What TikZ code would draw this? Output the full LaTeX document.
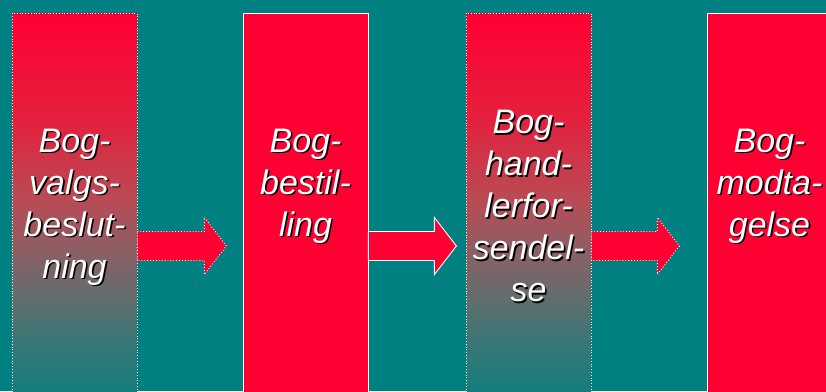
\documentclass[tikz,border=0pt]{standalone}
\usepackage{fontspec}
\setmainfont{Liberation Sans}
\usetikzlibrary{calc}

\definecolor{slidebg}{RGB}{0,128,128}
\definecolor{boxred}{RGB}{255,0,51}
\definecolor{fadeteal}{RGB}{20,125,125}
\definecolor{fadea}{RGB}{230,30,60}
\definecolor{fadeb}{RGB}{185,75,85}
\definecolor{fadec}{RGB}{140,95,100}
\definecolor{fade d}{RGB}{95,110,110}
\definecolor{fadee}{RGB}{50,120,120}

% red running into teal, through grey
\pgfdeclareverticalshading{stepfade}{100bp}{color(0bp)=(fadeteal); color(25bp)=(fadeteal);
  color(30.6bp)=(fadee); color(37.2bp)=(fade d); color(43.8bp)=(fadec);
  color(50.4bp)=(fadeb); color(61.8bp)=(fadea); color(75bp)=(boxred); color(100bp)=(boxred)}

% label with a dark drop shadow
\newcommand{\steplabel}[3]{%
\node[labelshadow] (#1s) at ([shift={(1.6,-1.6)}]#2) {#3};
\node[labeltext] (#1) at (#2) {#3};}

% block arrow leaving a box on its east side
\newcommand{\blockarrow}[3]{%
\draw[#1] (#2.east |- 0,145) ++(0,14.5) -- ++(#3,0) -- ++(0,14) -- ++(22,-28.5)
  -- ++(-22,-28.5) -- ++(0,14) -- ++(-#3,0) -- cycle;}

\begin{document}
\begin{tikzpicture}[x=1pt,y=1pt,
  stepbox/.style={shape=rectangle,anchor=north,minimum width=125pt,minimum height=380pt,inner sep=0pt,draw=white,line width=0.8pt},
  fadebox/.style={stepbox,shading=stepfade,dotted},
  plainbox/.style={stepbox,fill=boxred},
  labeltext/.style={align=center,text=white,font=\fontsize{34}{42}\selectfont\itshape,inner sep=0pt},
  labelshadow/.style={labeltext,text=black},
  dotarrow/.style={fill=boxred,draw=white,line width=0.9pt,dotted},
  solidarrow/.style={fill=boxred,draw=white,line width=0.9pt}]
\clip (0,0) rectangle (826,391);
\fill[slidebg] (0,0) rectangle (826,391);

\node[fadebox] (b1) at (74.5,378) {};
\node[plainbox] (b2) at (305.5,378) {};
\node[fadebox] (b3) at (528.5,378) {};
\node[plainbox] (b4) at (769.5,378) {};

\blockarrow{dotarrow}{b1}{67}
\blockarrow{solidarrow}{b2}{66}
\blockarrow{dotarrow}{b3}{66}

\steplabel{t1}{74.5,184}{Bog-\\valgs-\\beslut-\\ning}
\steplabel{t2}{305.5,205}{Bog-\\bestil-\\ling}
\steplabel{t3}{528.5,185}{Bog-\\hand-\\lerfor-\\sendel-\\se}
\steplabel{t4}{769.5,205}{Bog-\\modta-\\gelse}
\end{tikzpicture}
\end{document}
